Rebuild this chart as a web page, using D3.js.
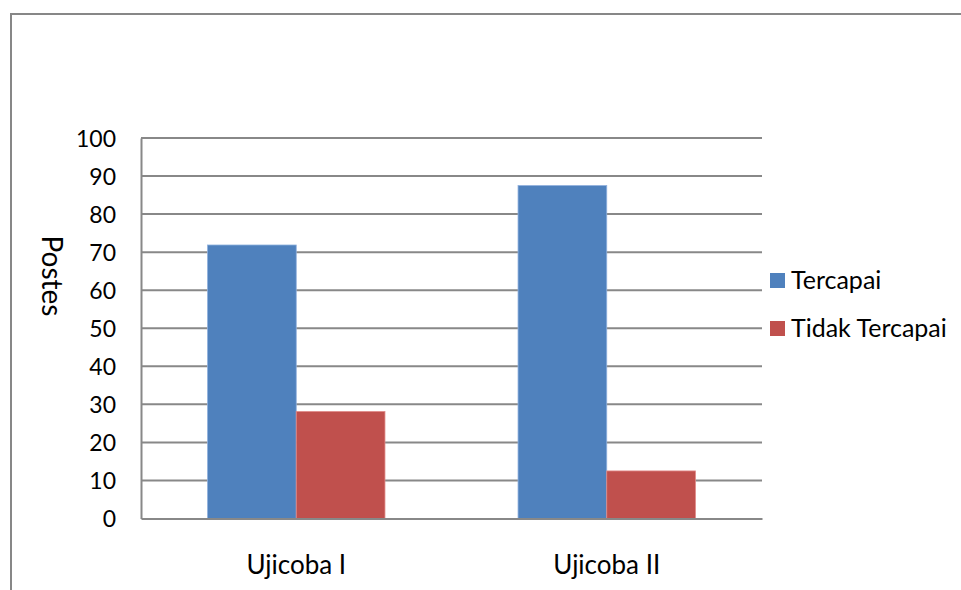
<!DOCTYPE html>
<html><head><meta charset="utf-8">
<script src="https://cdn.jsdelivr.net/npm/d3@7"></script>
<style>body{margin:0;background:#fff}svg{display:block}text{font-family:Lato,"Open Sans",sans-serif;fill:#000}</style>
</head><body>
<svg id="c" width="961" height="590"></svg>
<script>
const categories = ["Ujicoba I", "Ujicoba II"];
const seriesNames = ["Tercapai", "Tidak Tercapai"];
const tercapai = [71.88, 87.5];
const tidakTercapai = [28.12, 12.5];
const yTicks = [0,10,20,30,40,50,60,70,80,90,100];
const colors = ["#4F81BD", "#C0504D"];
const edgeColors = ["#8fb0dd", "#e08a88"];

const svg = d3.select("#c");
const plot = {left:141, right:762, top:138, bottom:518.5};

// outer chart border
svg.append("rect").attr("x",11).attr("y",14).attr("width",1000).attr("height",1000)
  .attr("fill","none").attr("stroke","#878787").attr("stroke-width",2);

const x0 = d3.scaleBand().domain(categories).range([plot.left, plot.right]).paddingInner(0).paddingOuter(0);
const y = d3.scaleLinear().domain([0,100]).range([plot.bottom, plot.top]);
const barW = x0.bandwidth()/3.5;
const x1 = d3.scaleBand().domain(seriesNames).range([0, barW*2]);

// gridlines
svg.append("g").selectAll("line").data(yTicks.filter(d=>d>0)).join("line")
  .attr("x1",plot.left).attr("x2",plot.right).attr("y1",d=>y(d)).attr("y2",d=>y(d))
  .attr("stroke","#888").attr("stroke-width",2);

// bars
const data = categories.map((c,i)=>({cat:c, vals:[tercapai[i], tidakTercapai[i]]}));
const groups = svg.append("g").selectAll("g").data(data).join("g")
  .attr("transform",d=>`translate(${x0(d.cat)+x0.bandwidth()/2-barW},0)`);
groups.selectAll("rect").data(d=>d.vals.map((v,j)=>({v,j}))).join("rect")
  .attr("x",d=>x1(seriesNames[d.j])).attr("width",x1.bandwidth())
  .attr("y",d=>y(d.v)).attr("height",d=>plot.bottom-y(d.v))
  .attr("fill",d=>colors[d.j]).attr("stroke",d=>edgeColors[d.j]).attr("stroke-width",0.8);

// y axis
const yAxis = svg.append("g").attr("transform",`translate(${plot.left},0)`)
  .call(d3.axisLeft(y).tickValues(yTicks).tickSize(0).tickPadding(25));
yAxis.select(".domain").attr("stroke","#888").attr("stroke-width",2);
yAxis.selectAll("text").attr("font-size",23).attr("font-family","Lato").attr("dy","0.36em");

// x axis
const xAxis = svg.append("g").attr("transform",`translate(0,${plot.bottom})`)
  .call(d3.axisBottom(x0).tickSize(0).tickPadding(37));
xAxis.select(".domain").attr("stroke","#888").attr("stroke-width",2);
xAxis.selectAll("text").attr("font-size",26).attr("font-family","Lato");

// y title
svg.append("text").attr("transform","translate(42,276) rotate(90)")
  .attr("text-anchor","middle").attr("font-size",28).text("Postes");

// legend
const leg = svg.append("g").selectAll("g").data(seriesNames).join("g")
  .attr("transform",(d,i)=>`translate(770,${273+i*48})`);
leg.append("rect").attr("width",15).attr("height",15).attr("fill",(d,i)=>colors[i]);
leg.append("text").attr("x",21).attr("y",15.5).attr("font-size",25).text(d=>d);
</script>
</body></html>
